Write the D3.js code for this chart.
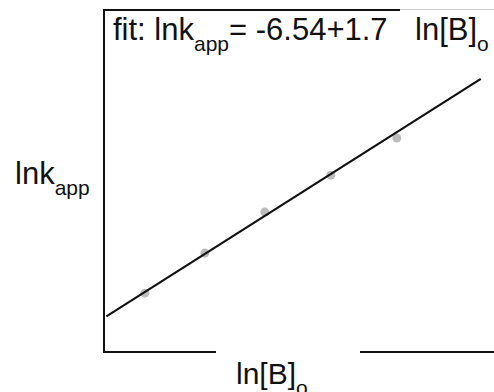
<!DOCTYPE html>
<html>
<head>
<meta charset="utf-8">
<script src="https://cdn.jsdelivr.net/npm/d3@7"></script>
<style>
  body { margin: 0; background: #fff; }
  text { font-family: "Liberation Sans", Arial, sans-serif; fill: #111; }
</style>
</head>
<body>
<figure id="fit" style="margin:0"></figure>
<script>
// ln[B]o values and measured lnk_app
const lnB = [1.0, 1.5, 2.0, 2.55, 3.1];
const lnk = [-4.865, -3.97, -3.055, -2.23, -1.40];
// fit: lnk_app = a + b ln[B]o
const intercept = -6.54;
const slope = 1.7;
const fitRange = [0.68, 3.8];

const width = 494;
const height = 392;

const svg = d3.select("figure#fit")
  .append("svg")
  .attr("width", width)
  .attr("height", height);

const x = d3.scaleLinear().domain([0.66, 3.91]).range([104, 494]);
const y = d3.scaleLinear().domain([-6.18, 1.46]).range([352, 10]);

// frame: left axis, broken bottom axis, top edge
svg.append("line")
  .attr("x1", x(0.66)).attr("x2", x(0.66))
  .attr("y1", y(1.46)).attr("y2", y(-6.18))
  .attr("stroke", "#111").attr("stroke-width", 2);

svg.append("line")
  .attr("x1", 103).attr("x2", 216)
  .attr("y1", y(-6.18)).attr("y2", y(-6.18))
  .attr("stroke", "#111").attr("stroke-width", 2);

svg.append("line")
  .attr("x1", 360).attr("x2", 494)
  .attr("y1", y(-6.18)).attr("y2", y(-6.18))
  .attr("stroke", "#111").attr("stroke-width", 2);

svg.append("line")
  .attr("x1", 103).attr("x2", 400)
  .attr("y1", 10).attr("y2", 10)
  .attr("stroke", "#111").attr("stroke-width", 2);

svg.append("line")
  .attr("x1", 400).attr("x2", 494)
  .attr("y1", 9.5).attr("y2", 9.5)
  .attr("stroke", "#ccc").attr("stroke-width", 1);

// data points
svg.selectAll("circle")
  .data(lnB.map((d, i) => [d, lnk[i]]))
  .enter()
  .append("circle")
  .attr("cx", d => x(d[0]))
  .attr("cy", d => y(d[1]))
  .attr("r", 4.5)
  .attr("fill", "#bdbdbd");

// fitted line
const line = d3.line()
  .x(d => x(d))
  .y(d => y(intercept + slope * d));

svg.append("path")
  .attr("d", line(fitRange))
  .attr("fill", "none")
  .attr("stroke", "#111")
  .attr("stroke-width", 2.2);

// labels
const fitText = svg.append("text")
  .attr("x", 113).attr("y", 40)
  .style("font-size", "31px");
fitText.append("tspan").text("fit: lnk");
fitText.append("tspan").text("app").attr("dy", 11).style("font-size", "21px");
fitText.append("tspan").text("= -6.54+1.7").attr("dy", -11);

const fitB = svg.append("text")
  .attr("x", 415).attr("y", 40)
  .style("font-size", "31px");
fitB.append("tspan").text("ln[B]");
fitB.append("tspan").text("o").attr("dy", 11).style("font-size", "21px");

const yLabel = svg.append("text")
  .attr("x", 15).attr("y", 184)
  .style("font-size", "31px");
yLabel.append("tspan").text("lnk");
yLabel.append("tspan").text("app").attr("dy", 11).style("font-size", "21px");

const xLabel = svg.append("text")
  .attr("x", 236).attr("y", 384)
  .style("font-size", "30px");
xLabel.append("tspan").text("ln[B]");
xLabel.append("tspan").text("o").attr("dy", 11).style("font-size", "21px");
</script>
</body>
</html>
